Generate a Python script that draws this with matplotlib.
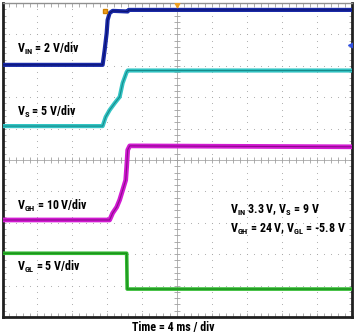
import numpy as np
import matplotlib
matplotlib.use('Agg')
import matplotlib.pyplot as plt
from matplotlib import font_manager

# the scope shot uses a condensed sans; take one if it is installed
FONT = 'Lato'
names = {f.name for f in font_manager.fontManager.ttflist}
for cand in ['Liberation Sans Narrow', 'Roboto Condensed', 'Noto Sans Condensed',
             'Open Sans Condensed', 'Arial Narrow']:
    if cand in names:
        FONT = cand
        break
plt.rcParams['font.family'] = [FONT, 'DejaVu Sans']

# time axis in ms (4 ms / div), trace levels in screen divisions
vin_t = [0, 11.46, 11.69, 11.92, 12.03, 12.26, 12.61, 14.33, 14.44, 40]
vin_y = [3.03, 3.03, 3.50, 4.04, 4.46, 4.68, 4.75, 4.73, 4.78, 4.78]

vs_t = [0, 11.46, 11.81, 12.26, 12.84, 13.41, 13.75, 14.21, 14.33, 40]
vs_y = [1.08, 1.08, 1.37, 1.59, 1.81, 2.01, 2.45, 2.80, 2.85, 2.85]

vgh_t = [0, 12.26, 12.61, 13.07, 13.41, 13.75, 14.10, 14.21, 14.33, 14.56, 40]
vgh_y = [-1.91, -1.91, -1.69, -1.50, -1.27, -0.96, -0.64, -0.22, 0.32, 0.45, 0.42]

vgl_t = [0, 14.21, 14.27, 40]
vgl_y = [-2.97, -2.97, -4.11, -4.11]

labels = [r'V$_{\mathregular{IN}}$ = 2 V/div', r'V$_{\mathregular{S}}$ = 5 V/div',
          r'V$_{\mathregular{GH}}$ = 10 V/div', r'V$_{\mathregular{GL}}$ = 5 V/div']
note1 = r'V$_{\mathregular{IN}}$ 3.3 V, V$_{\mathregular{S}}$ = 9 V'
note2 = r'V$_{\mathregular{GH}}$ = 24 V, V$_{\mathregular{GL}}$ = -5.8 V'
xlabel = 'Time = 4 ms / div'

MS_PER_DIV = 4.0


def graticule(ax):
    """dotted scope grid, centre cross with ticks and edge ticks"""
    dot = '#a8a8a8'
    fine = np.arange(0, 10.001, 0.2)
    fine_y = np.arange(-5, 5.001, 0.2)
    for gx in range(1, 10):
        if gx == 5:
            continue
        ax.scatter(np.full(fine_y.size, gx), fine_y, s=0.6, c=dot, lw=0, zorder=1)
    for gy in range(-4, 5):
        if gy == 0:
            continue
        ax.scatter(fine, np.full(fine.size, gy), s=0.6, c=dot, lw=0, zorder=1)
    # centre lines
    ax.axhline(0, color='#b4b4b4', lw=0.7, zorder=1)
    ax.axvline(5, color='#b4b4b4', lw=0.7, zorder=1)
    ax.vlines(fine, -0.09, 0.09, color='#a0a0a0', lw=0.6, zorder=1)
    ax.hlines(fine_y, 4.92, 5.08, color='#a0a0a0', lw=0.6, zorder=1)
    # edge ticks
    ax.vlines(fine, 4.88, 5, color='#a0a0a0', lw=0.6, zorder=1)
    ax.vlines(fine, -5, -4.88, color='#a0a0a0', lw=0.6, zorder=1)
    ax.hlines(fine_y, 0, 0.1, color='#a0a0a0', lw=0.6, zorder=1)
    ax.hlines(fine_y, 9.9, 10, color='#a0a0a0', lw=0.6, zorder=1)


def main():
    fig = plt.figure(figsize=(3.55, 3.34), dpi=100)
    ax = fig.add_axes([2.5 / 355, 1 - 317 / 334, 349.5 / 355, 314 / 334])
    ax.set_xlim(0, 10)
    ax.set_ylim(-5, 5)
    ax.set_xticks([])
    ax.set_yticks([])
    for side in ['left', 'bottom', 'right']:
        ax.spines[side].set_linewidth(2)
        ax.spines[side].set_color('#202020')
    ax.spines['top'].set_linewidth(1)
    ax.spines['top'].set_color('#909090')

    graticule(ax)

    traces = [(vin_t, vin_y, '#1a2aa8', '#0a1270', 3.0),
              (vs_t, vs_y, '#33c4c4', '#168c8c', 3.0),
              (vgh_t, vgh_y, '#d21ad2', '#8c0a8c', 3.4),
              (vgl_t, vgl_y, '#2fba2f', '#1a8a1a', 2.6)]
    for t, y, col, core, lw in traces:
        x = np.array(t) / MS_PER_DIV
        ax.plot(x, y, color=col, lw=lw, solid_joinstyle='round', zorder=3)
        ax.plot(x, y, color=core, lw=0.8, zorder=4)

    # scope markers
    ax.plot([2.93], [4.74], marker='s', ms=3.5, color='#f0a020', mec='#d08000', zorder=5)
    ax.plot([4.98], [4.93], marker='v', ms=3.5, color='#f0a020', zorder=5)
    ax.plot([9.97], [3.66], marker='<', ms=4, color='#3050e0', zorder=5)

    kw = dict(fontsize=10, fontweight='bold', va='baseline', zorder=6)
    texts = []
    label_y = [3.41, 1.40, -1.59, -3.54]
    for txt, ly in zip(labels, label_y):
        texts.append(ax.text(0.41, ly, txt, **kw))
    texts.append(ax.text(6.51, -1.72, note1, **kw))
    n2 = ax.text(6.51, -2.32, note2, **kw)
    texts.append(n2)
    texts.append(fig.text(173 / 355, 1 - 331 / 334, xlabel, fontsize=10, fontweight='bold',
                          ha='center', va='baseline'))

    # size the text so the long note spans about the same width as in the shot
    fig.canvas.draw()
    w = n2.get_window_extent().width
    fs = 10 * 116.0 / w
    for t in texts:
        t.set_fontsize(fs)

    fig.savefig('out.png', dpi=100)


if __name__ == "__main__":
    main()
